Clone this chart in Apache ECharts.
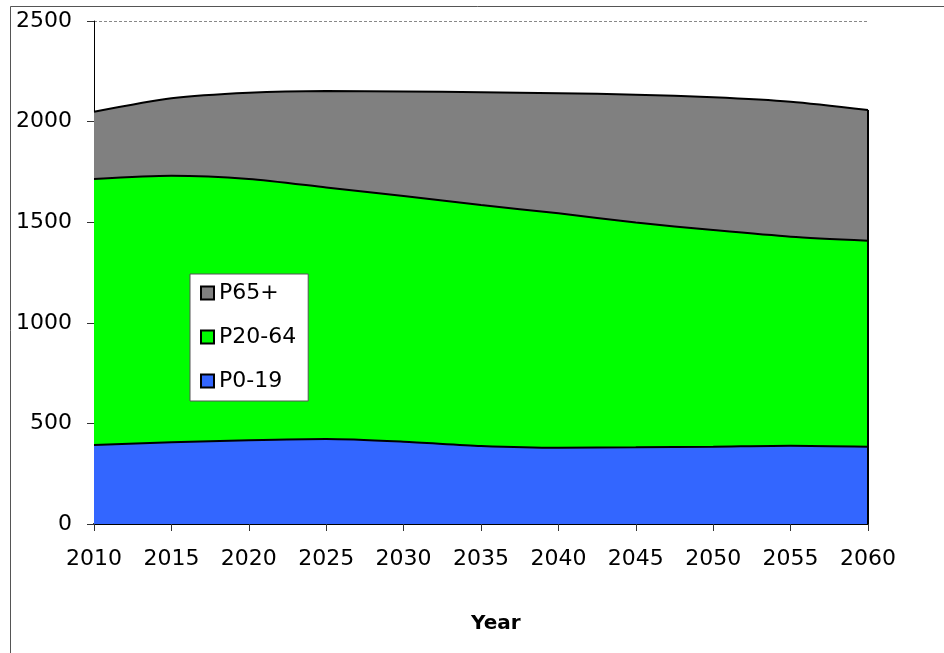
<!DOCTYPE html>
<html>
<head>
<meta charset="utf-8">
<script src="https://cdn.jsdelivr.net/npm/echarts@6/dist/echarts.min.js"></script>
<style>
  html, body { margin: 0; padding: 0; background: #fff; }
  #chart { width: 944px; height: 653px; }
</style>
</head>
<body>
<div id="chart"></div>
<script>
// Population by age group, stacked (thousands)
const years = ['2010', '2015', '2020', '2025', '2030', '2035', '2040', '2045', '2050', '2055', '2060'];
const p0_19 = [393, 406, 416, 422, 409, 388, 379, 381, 384, 389, 384];
const p20_64 = [1322, 1325, 1299, 1251, 1221, 1197, 1165, 1117, 1077, 1039, 1024];
const p65plus = [334, 385, 429, 479, 520, 561, 597, 636, 660, 671, 650];
const yTicks = [0, 500, 1000, 1500, 2000, 2500];

const FONT = 'DejaVu Sans';
const lastIdx = years.length - 1;
const lastTotal = p0_19[lastIdx] + p20_64[lastIdx] + p65plus[lastIdx];

function areaSeries(name, data, color) {
  return {
    name: name,
    type: 'line',
    stack: 'pop',
    data: data,
    smooth: 0.25,
    symbol: 'none',
    lineStyle: { color: '#000', width: 2 },
    itemStyle: { color: color, borderColor: '#000', borderWidth: 2 },
    areaStyle: { color: color, opacity: 1 }
  };
}

const chart = echarts.init(document.getElementById('chart'), null, { renderer: 'canvas' });

const oldAge = areaSeries('P65+', p65plus, '#808080');
// closing edge of the stack at the last year
oldAge.markLine = {
  silent: true,
  symbol: 'none',
  label: { show: false },
  lineStyle: { color: '#000', width: 2, type: 'solid' },
  data: [[{ coord: [years[lastIdx], 0] }, { coord: [years[lastIdx], lastTotal] }]]
};

chart.setOption({
  animation: false,
  backgroundColor: '#fff',
  textStyle: { fontFamily: FONT },
  grid: { left: 94, right: 76, top: 21, bottom: 129 },
  legend: {
    orient: 'vertical',
    left: 190,
    top: 274,
    data: ['P65+', 'P20-64', 'P0-19'],
    icon: 'rect',
    itemWidth: 13,
    itemHeight: 13,
    itemGap: 22,
    padding: [8, 12, 9, 10],
    backgroundColor: '#fff',
    borderColor: '#555',
    borderWidth: 1,
    borderRadius: 0,
    itemStyle: { borderColor: '#000', borderWidth: 2 },
    textStyle: { fontFamily: FONT, fontSize: 22, color: '#000', padding: [0, 0, 0, 0] }
  },
  xAxis: {
    type: 'category',
    data: years,
    boundaryGap: false,
    axisLine: { lineStyle: { color: '#000', width: 2 } },
    axisTick: { show: true, inside: false, length: 7, alignWithLabel: true, lineStyle: { color: '#333', width: 1 } },
    axisLabel: { fontFamily: FONT, fontSize: 22, color: '#000', margin: 24 },
    splitLine: { show: false }
  },
  yAxis: {
    type: 'value',
    min: yTicks[0],
    max: yTicks[yTicks.length - 1],
    interval: yTicks[1] - yTicks[0],
    axisLine: { show: true, lineStyle: { color: '#000', width: 1 } },
    axisTick: { show: true, inside: false, length: 7, lineStyle: { color: '#333', width: 1 } },
    axisLabel: { fontFamily: FONT, fontSize: 22, color: '#000', margin: 22, formatter: (v) => String(v) },
    splitLine: { show: true, lineStyle: { color: '#888', width: 1, type: [3, 2] } }
  },
  series: [
    areaSeries('P0-19', p0_19, '#3366FF'),
    areaSeries('P20-64', p20_64, '#00FF00'),
    oldAge
  ],
  graphic: [
    {
      type: 'rect',
      silent: true,
      z: -10,
      shape: { x: 10.5, y: 6.5, width: 1000, height: 1000 },
      style: { fill: 'none', stroke: '#555', lineWidth: 1 }
    },
    {
      type: 'text',
      silent: true,
      left: 471,
      top: 614,
      style: { text: 'Year', font: 'bold 20px "DejaVu Sans"', fill: '#000' }
    }
  ]
});
</script>
</body>
</html>
